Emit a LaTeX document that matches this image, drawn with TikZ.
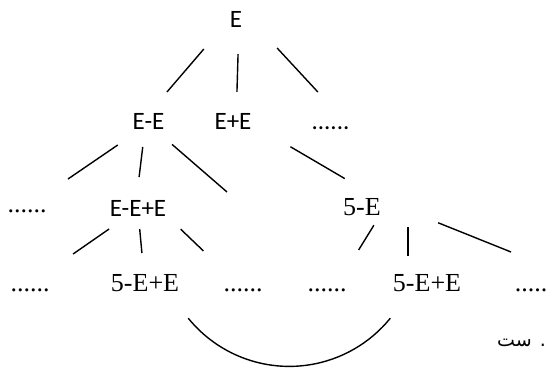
\documentclass[tikz,border=0pt]{standalone}
\usepackage{fontspec}
\setmainfont{Liberation Serif}
\newfontfamily\calibri{Carlito}
\newfontfamily\arabicfont[Script=Arabic]{DejaVu Sans}
\TeXXeTstate=1
\usetikzlibrary{positioning,calc}

\begin{document}
\begin{tikzpicture}[x=1pt,y=1pt,on grid,
  lbl/.style={inner sep=0pt,text height=15pt,text depth=5pt},
  sn/.style={lbl,font=\calibri\fontsize{25}{29}\selectfont},
  rm/.style={lbl,font=\fontsize{26}{30}\selectfont},
  edge/.style={line width=1.4pt}]
  \useasboundingbox (0,0) rectangle (548,-367);
  % derivation tree
  \node[sn] (E) at (236,-22) {E};
  \node[sn,below=102pt of E,xshift=-87.5pt] (EE) {E-E};
  \node[sn,below=102pt of E,xshift=-3pt] (EpE) {E+E};
  \node[sn,below=102pt of E,xshift=94.5pt] (dA) {......};
  \node[rm,below=83pt of EE,xshift=-121.5pt] (dB) {......};
  \node[sn,below=87pt of EE,xshift=-10.5pt] (EEpE) {E-E+E};
  \node[rm,below=86pt of dA,xshift=31.5pt] (fE) {5-E};
  \node[rm,below=79pt of dB,xshift=3pt] (dC) {......};
  \node[rm,below=75pt of EEpE,xshift=7pt] (fa) {5-E+E};
  \node[rm,right=98pt of fa] (dD) {......};
  \node[rm,right=84pt of dD] (dE) {......};
  \node[rm,right=100pt of dE] (fb) {5-E+E};
  \node[rm,right=104pt of fb] (dF) {.....};
  \node[font=\arabicfont\fontsize{19}{22}\selectfont,inner sep=0pt,anchor=base east]
    (note) at ($(dF)+(15,-60)$) {\beginR. ست\endR};
  \coordinate (eeR) at ($(EE)+(78.5,-68)$);
  \coordinate (fER) at ($(fE)+(149,-42)$);
  \coordinate (arcL) at ($(fa.south east)+(9,-22)$);
  % connectors
  \draw[edge] ($(E)!.265!(EE)+(-9,0)$) -- ($(E)!.686!(EE)+(-9,0)$);
  \draw[edge] ($(E)!.314!(EpE)+(3,0)$) -- ($(E)!.686!(EpE)+(3,0)$);
  \draw[edge] ($(E)!.255!(dA)+(17,0)$) -- ($(E)!.686!(dA)+(17,0)$);
  \draw[edge] ($(EE)!.253!(dB)$) -- ($(EE)!.663!(dB)$);
  \draw[edge] ($(EE)!.264!(EEpE)+(-3,0)$) -- ($(EE)!.609!(EEpE)+(-3,0)$);
  \draw[edge] ($(EE)!.3!(eeR)$) -- (eeR);
  \draw[edge] ($(EpE.east)!.3!(fE.north east)$) -- ($(EpE.east)!.72!(fE.north east)$);
  \draw[edge] ($(EEpE)!.24!(dC)+(-3,0)$) -- ($(EEpE)!.573!(dC)+(-3,0)$);
  \draw[edge] ($(EEpE)!.24!(fa)$) -- ($(EEpE)!.56!(fa)$);
  \draw[edge] ($(EEpE.south east)!.145!(dD.north west)+(6,0)$)
    -- ($(EEpE.south east)!.545!(dD.north west)+(6,0)$);
  \draw[edge] ($(fE.south east)!.09!(dE.north east)+(-4,0)$)
    -- ($(fE.south east)!.536!(dE.north east)+(-4,0)$);
  \draw[edge] ($(fb.north)+(-19,49)$) -- ($(fb.north)+(-19,20)$);
  \draw[edge] ($(fE.north east)!.44!(fER)$) -- (fER);
  \draw[edge] (arcL) arc[start angle=219,end angle=321,radius=130pt];
\end{tikzpicture}
\end{document}
